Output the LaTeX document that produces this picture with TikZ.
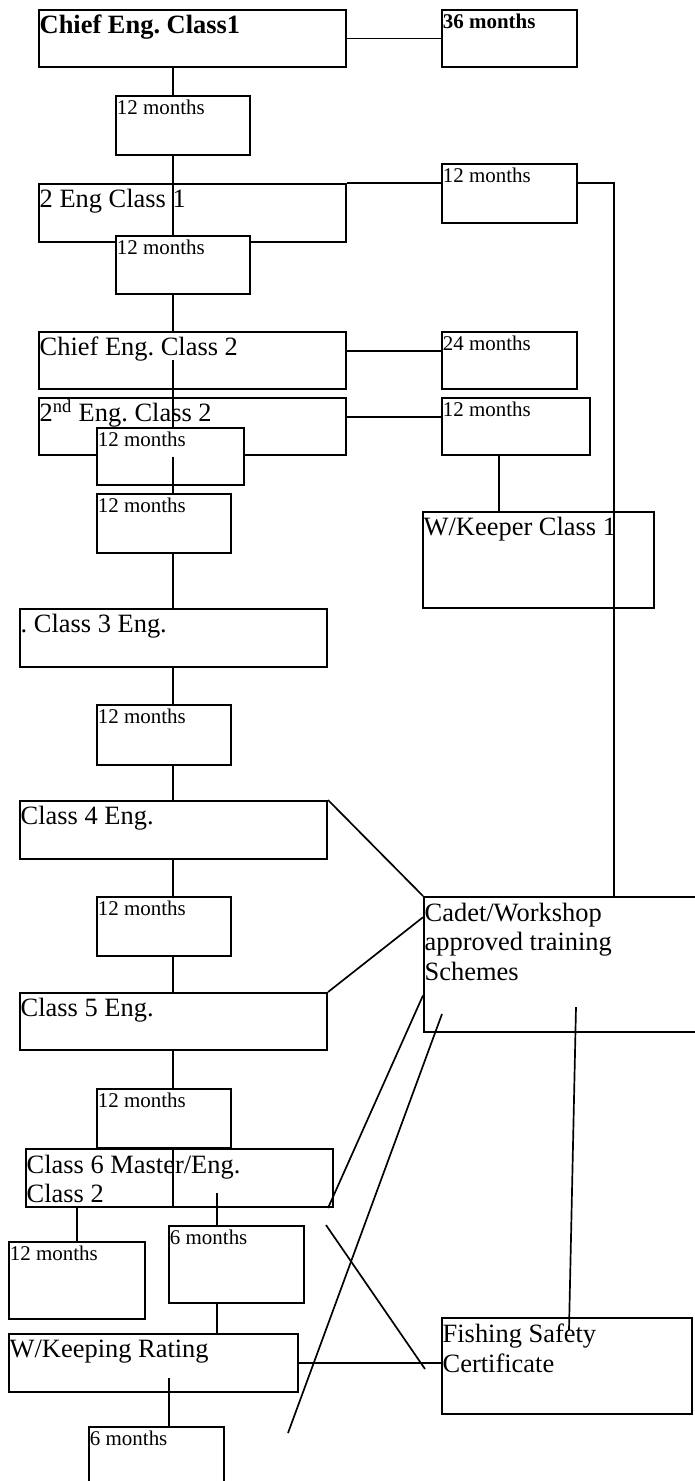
\documentclass[tikz,border=0pt]{standalone}
\usepackage{fontspec}
\setmainfont{Liberation Serif}
\frenchspacing
\usepackage{tikz}
\usetikzlibrary{calc}
\tikzstyle{box} = [rectangle, draw=black, fill=white, line width=1.4pt, inner sep=0pt, anchor=north west]
\tikzstyle{big} = [anchor=north west, inner xsep=1pt, inner ysep=0pt, text height=17.4pt, align=left, font=\fontsize{18.8}{21.3}\selectfont]
\tikzstyle{bigm} = [big, text height={}]
\tikzstyle{bigb} = [big, font=\fontsize{18.8}{21.3}\selectfont\bfseries]
\tikzstyle{small} = [anchor=north west, inner xsep=1.2pt, inner ysep=0pt, text height=13.8pt, align=left, font=\fontsize{14.9}{17}\selectfont]
\tikzstyle{smallb} = [small, font=\fontsize{14.9}{17}\selectfont\bfseries]
\tikzstyle{line} = [line width=1.2pt]
\newcommand{\topstrut}{\rule{0pt}{17.6pt}}

\begin{document}
\begin{tikzpicture}[x=0.025cm, y=-0.025cm]

\useasboundingbox (0,0) rectangle (695,1481);
\clip (0,0) rectangle (695,1481);

% Left column
\node (ce1) [box, minimum width=7.675cm, minimum height=1.425cm, label={[bigb]north west:Chief Eng. Class1}] at (38,9) {};
\node (m1) [box, minimum width=3.35cm, minimum height=1.475cm, label={[small]north west:12 months}] at (115,95) {};
\node (e2c1) [box, minimum width=7.675cm, minimum height=1.45cm, label={[big]north west:2 Eng Class 1}] at (38,183) {};
\node (m2) [box, minimum width=3.35cm, minimum height=1.45cm, label={[small]north west:12 months}] at (115,235) {};
\node (ce2) [box, minimum width=7.675cm, minimum height=1.425cm, label={[big]north west:Chief Eng. Class 2}] at (38,331) {};
\node (e2c2) [box, minimum width=7.675cm, minimum height=1.425cm, label={[big]north west:2\textsuperscript{nd} Eng. Class 2}] at (38,397) {};
\node (m3) [box, minimum width=3.675cm, minimum height=1.425cm, label={[small]north west:12 months}] at (96,427) {};
\node (m4) [box, minimum width=3.35cm, minimum height=1.475cm, label={[small]north west:12 months}] at (96,493) {};
\node (c3) [box, minimum width=7.675cm, minimum height=1.45cm, label={[big]north west:. Class 3 Eng.}] at (19,608) {};
\node (m5) [box, minimum width=3.35cm, minimum height=1.5cm, label={[small]north west:12 months}] at (96,704) {};
\node (c4) [box, minimum width=7.675cm, minimum height=1.45cm, label={[big]north west:Class 4 Eng.}] at (19,800) {};
\node (m6) [box, minimum width=3.35cm, minimum height=1.475cm, label={[small]north west:12 months}] at (96,896) {};
\node (c5) [box, minimum width=7.675cm, minimum height=1.425cm, label={[big]north west:Class 5 Eng.}] at (19,992) {};
\node (m7) [box, minimum width=3.35cm, minimum height=1.475cm, label={[small]north west:12 months}] at (96,1088) {};
\node (c6) [box, minimum width=7.675cm, minimum height=1.45cm, label={[bigm]north west:\topstrut Class 6 Master/Eng.\\Class 2}] at (25,1148) {};
\node (m8) [box, minimum width=3.4cm, minimum height=1.925cm, label={[small]north west:12 months}] at (8,1241) {};
\node (s1) [box, minimum width=3.375cm, minimum height=1.925cm, label={[small]north west:6 months}] at (168,1225) {};
\node (wkr) [box, minimum width=7.225cm, minimum height=1.45cm, label={[big]north west:W/Keeping Rating}] at (8,1333) {};
\node (s2) [box, minimum width=3.375cm, minimum height=2cm, label={[small]north west:6 months}] at (88,1426) {};

% Right column
\node (t36) [box, minimum width=3.375cm, minimum height=1.425cm, label={[smallb]north west:36 months}] at (441,9) {};
\node (r12a) [box, minimum width=3.375cm, minimum height=1.475cm, label={[small]north west:12 months}] at (441,163) {};
\node (t24) [box, minimum width=3.375cm, minimum height=1.425cm, label={[small]north west:24 months}] at (441,331) {};
\node (r12b) [box, minimum width=3.7cm, minimum height=1.425cm, label={[small]north west:12 months}] at (441,397) {};
\node (wk1) [box, minimum width=5.775cm, minimum height=2.4cm, label={[big]north west:W/Keeper Class 1}] at (422,511) {};
\node (cadet) [box, minimum width=7.25cm, minimum height=3.375cm, label={[bigm]north west:\topstrut Cadet/Workshop\\approved training\\Schemes}] at (423,896) {};
\node (fsc) [box, minimum width=6.25cm, minimum height=2.4cm, label={[bigm]north west:\topstrut Fishing Safety\\Certificate}] at (441,1317) {};

% Guide points
\coordinate (spine) at (173,0);
\coordinate (trunk) at (614,0);
\coordinate (wkx) at (499,0);
\coordinate (sixx) at (217,0);
\coordinate (ratx) at (169,0);
\coordinate (c6low) at ($(c6.center)!0.5!(c6.south)$);
\coordinate (wkrlow) at ($(wkr.center)!0.5!(wkr.south)$);
\coordinate (cadetA) at ($(cadet.north west)!0.155!(cadet.south west)$);
\coordinate (cadetB) at ($(cadet.north west)!0.726!(cadet.south west)$);
\coordinate (cadetC) at ($(cadet.south west)+(19,-19)$);
\coordinate (cadetD) at ($(cadet.south west)+(153,-26)$);
\coordinate (fscin) at ($(fsc.north west)+(128,13)$);
\coordinate (tailC) at (288,1433);
\coordinate (crossA) at (326,1225);
\coordinate (crossB) at (425,1369);

% Spine
\draw [line] (ce1.south -| spine) -- (m1.north -| spine);
\draw [line] (m1.south -| spine) -- (m2.north -| spine);
\draw [line] (m2.south -| spine) -- (ce2.north -| spine);
\draw [line] (ce2.center -| spine) -- (m3.north -| spine);
\draw [line] (m3.center -| spine) -- (m4.north -| spine);
\draw [line] (m4.south -| spine) -- (c3.north -| spine);
\draw [line] (c3.south -| spine) -- (m5.north -| spine);
\draw [line] (m5.south -| spine) -- (c4.north -| spine);
\draw [line] (c4.south -| spine) -- (m6.north -| spine);
\draw [line] (m6.south -| spine) -- (c5.north -| spine);
\draw [line] (c5.south -| spine) -- (m7.north -| spine);
\draw [line] (m7.south -| spine) -- (c6.south -| spine);

% Bottom branches
\draw [line] (c6.south -| m8.north) -- (m8.north);
\draw [line] (c6low -| sixx) -- (s1.north -| sixx);
\draw [line] (s1.south -| sixx) -- (wkr.north -| sixx);
\draw [line] (wkrlow -| ratx) -- (s2.north -| ratx);
\draw [line] (wkr.east) -- (wkr.east -| fsc.west);

% Right branches
\draw [line] (ce1.east) -- (t36.west);
\draw [line] (e2c1.north east) -- (e2c1.north east -| r12a.west);
\draw [line] (e2c1.north east -| r12a.east) -- (e2c1.north east -| trunk) -- (trunk |- cadet.north);
\draw [line] ([yshift=0.24cm]ce2.east) -- ([yshift=0.24cm]t24.west);
\draw [line] ([yshift=0.24cm]e2c2.east) -- ([yshift=0.24cm]r12b.west);
\draw [line] (r12b.south -| wkx) -- (wk1.north -| wkx);

% Cadet links
\draw [line] (c4.north east) -- (cadet.north west);
\draw [line] (c5.north east) -- (cadetA);
\draw [line] (cadetB) -- ([xshift=-0.15cm]c6.south east);
\draw [line] (cadetC) -- (tailC);
\draw [line] (cadetD) -- (fscin);
\draw [line] (crossA) -- (crossB);

\end{tikzpicture}
\end{document}
